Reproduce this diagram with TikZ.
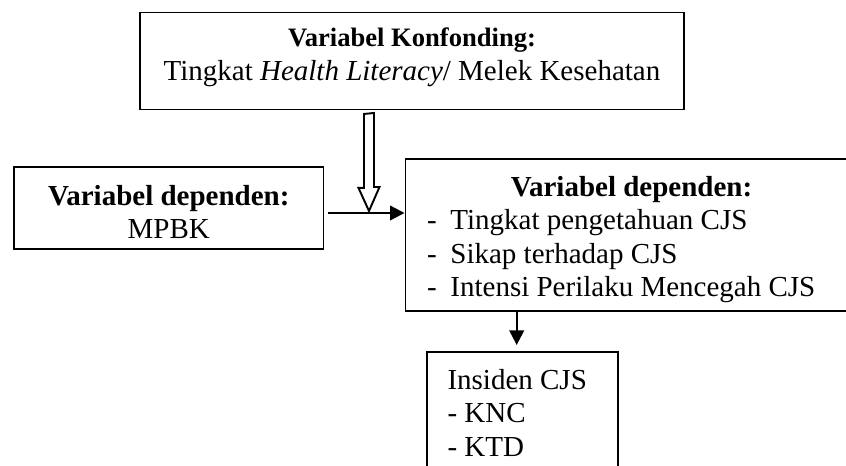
\documentclass[tikz,border=0pt]{standalone}
\usepackage{fontspec}
\setmainfont{Liberation Serif}
\usepackage{tikz}
\usetikzlibrary{positioning, arrows.meta, calc}
\newcommand{\pxl}{0.4138pt}
\tikzset{
  varbox/.style={
    rectangle,
    draw=black,
    line width=0.8pt,
    inner sep=0pt,
    align=center,
    font=\fontsize{12}{13.7}\selectfont
  },
  flowarrow/.style={
    -{Triangle[length=6pt, width=6pt]},
    line width=0.9pt
  },
  hollowarrow/.style={
    draw=black,
    fill=white,
    line width=0.8pt,
    line join=miter
  }
}

\begin{document}
\begin{tikzpicture}[x=\pxl, y=-\pxl]
  \useasboundingbox (0,0) rectangle (846,466);
  \clip (0,0) rectangle (846,466);
  \node[varbox, minimum width=544*\pxl, minimum height=97*\pxl] (konf) at (412,61)
    {{\fontsize{11}{13.7}\selectfont\bfseries Variabel Konfonding:}\\
     Tingkat \textit{Health Literacy}/ Melek Kesehatan\rule[-5.7pt]{0pt}{5.7pt}};
  \node[varbox, minimum width=309.5*\pxl, minimum height=82.3*\pxl] (mpbk) at (168.75,207.85)
    {\rule{0pt}{12.1pt}\textbf{Variabel dependen:}\\MPBK};
  \node[varbox, minimum width=452*\pxl, minimum height=151.7*\pxl,
        text width=409*\pxl, align=flush left] (dep) at (631.5,234.85)
    {\centerline{\rule{0pt}{12.2pt}\textbf{Variabel dependen:}}
     -\hspace{5.7pt}Tingkat pengetahuan CJS\\
     -\hspace{5.7pt}Sikap terhadap CJS\\
     -\hspace{5.7pt}Intensi Perilaku Mencegah CJS};
  \node[varbox, anchor=north, minimum width=191*\pxl, inner ysep=18*\pxl,
        text width=150*\pxl, align=flush left] (ins) at (522.5,350.7)
    {Insiden CJS\\- KNC\\- KTD};
  % connectors
  \coordinate (meet) at (369,213);
  \coordinate (dropx) at (516.7,0);
  \draw[flowarrow, shorten <=1.45pt] (mpbk.east |- meet) -- (dep.west |- meet);
  \draw[hollowarrow] ($(konf.south -| meet)+(-5,3.5)$) -- ++(0,74) -- ++(-5.5,0)
    -- ($(meet)+(0,-2)$) -- ++(10.5,-24) -- ++(-5.5,0) -- ++(0,-74) -- cycle;
  \draw[flowarrow, shorten >=2.36pt] (dep.south -| dropx) -- (ins.north -| dropx);
\end{tikzpicture}
\end{document}
